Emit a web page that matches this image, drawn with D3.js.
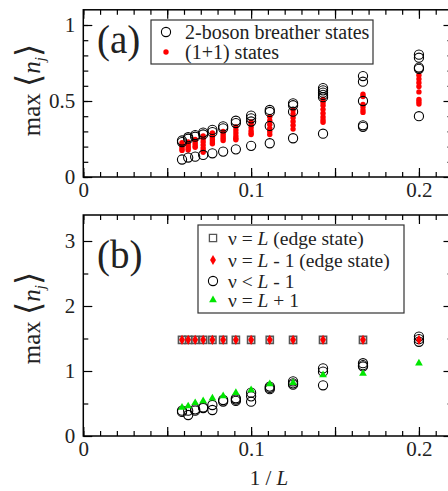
<!DOCTYPE html>
<html lang="en">
<head>
<meta charset="UTF-8">
<title>max n_j vs 1/L</title>
<script src="https://cdn.jsdelivr.net/npm/d3@7"></script>
<style>
  body { margin: 0; background: #fff; }
  svg { display: block; }
  svg text { font-family: "Liberation Serif", "Times New Roman", serif; }
</style>
</head>
<body>
<svg id="chart" width="448" height="491"></svg>
<script>
// system sizes L, plotted against 1/L
const sizesA = [5, 6, 7, 8, 9, 10, 11, 12, 13, 14, 15, 16, 17]

// (a) 2-boson breather states, one list per L
const breather = [
  [0.805, 0.785, 0.72, 0.712, 0.40],
  [0.664, 0.627, 0.50, 0.34, 0.33],
  [0.585, 0.57, 0.555, 0.54, 0.525, 0.285],
  [0.485, 0.472, 0.43, 0.255],
  [0.441, 0.428, 0.336, 0.222],
  [0.404, 0.386, 0.365, 0.205],
  [0.37, 0.355, 0.182],
  [0.333, 0.32, 0.167],
  [0.31, 0.295, 0.156],
  [0.292, 0.28, 0.145],
  [0.276, 0.265, 0.134],
  [0.262, 0.252, 0.128],
  [0.24, 0.23, 0.115]
]
// (a) (1+1) states
const oneOne = [
  [0.67, 0.645, 0.62, 0.595, 0.56, 0.51, 0.495, 0.48],
  [0.545, 0.53, 0.478, 0.46, 0.44, 0.425],
  [0.51, 0.49, 0.47, 0.445, 0.42, 0.395, 0.375, 0.36],
  [0.44, 0.415, 0.39, 0.365, 0.34, 0.315],
  [0.396, 0.37, 0.345, 0.32, 0.3, 0.28],
  [0.362, 0.345, 0.325, 0.305, 0.29, 0.28],
  [0.33, 0.31, 0.29, 0.27, 0.255, 0.245],
  [0.30, 0.285, 0.27, 0.255, 0.24],
  [0.29, 0.275, 0.26, 0.245, 0.23, 0.218],
  [0.27, 0.25, 0.23, 0.21, 0.19, 0.175, 0.163],
  [0.247, 0.232, 0.218, 0.205, 0.195],
  [0.23, 0.215, 0.2, 0.188, 0.178],
  [0.225, 0.21, 0.198, 0.185, 0.175]
]

// (b)
const edgeL = [null, 1.48, 1.48, 1.48, 1.48, 1.48, 1.48, 1.48, 1.48, 1.48, 1.48, 1.48, 1.48]
const edgeLm1 = [1.48, 1.48, 1.48, 1.48, 1.48, 1.48, 1.48, 1.48, 1.48, 1.48, 1.48, 1.48, 1.48]
const belowLm1 = [
  [1.53, 1.49, 1.45],
  [1.12, 1.09, 1.07],
  [1.04, 0.99, 0.78],
  [0.84, 0.81, 0.79],
  [0.76, 0.74, 0.72],
  [0.667, 0.61, 0.528],
  [0.58, 0.56, 0.54],
  [0.554, 0.53],
  [0.477, 0.40],
  [0.44, 0.43],
  [0.41, 0.39],
  [0.39, 0.323],
  [0.39, 0.37]
]
const Lp1 = [1.12, 0.96, 0.94, 0.82, 0.80, 0.708, 0.667, 0.615, 0.58, 0.54, 0.51, 0.46, 0.44]

const xTicksMajor = [0, 0.05, 0.1, 0.15, 0.2]
const xTickLabels = {0: "0", 0.1: "0.1", 0.2: "0.2"}

let svg = d3.select("#chart")
let x = d3.scaleLinear().domain([0, 0.22]).range([83.3, 452.5])
let yA = d3.scaleLinear().domain([0, 1.1]).range([177, 9.8])
let yB = d3.scaleLinear().domain([0, 3.4]).range([436, 215])

function flat(lists) {
  let out = []
  lists.forEach((vals, i) => {
    if (vals == null) return
    [].concat(vals).forEach(v => { if (v != null) out.push({L: sizesA[i], v: v}) })
  })
  return out
}

function frame(y, yMajor, yMinor, yFmt) {
  let g = svg.append("g")
  let x0 = x.range()[0], x1 = x.range()[1]
  let y0 = y.range()[0], y1 = y.range()[1]
  let xMinor = d3.range(0, 0.2201, 0.01).map(d => +d.toFixed(2))

  let axes = [
    [d3.axisBottom(x).tickValues(xMinor).tickSize(-5).tickFormat(""), `translate(0,${y0})`],
    [d3.axisBottom(x).tickValues(xTicksMajor).tickSize(-9).tickPadding(5)
       .tickFormat(d => xTickLabels[d] || ""), `translate(0,${y0})`],
    [d3.axisTop(x).tickValues(xMinor).tickSize(-5).tickFormat(""), `translate(0,${y1})`],
    [d3.axisTop(x).tickValues(xTicksMajor).tickSize(-9).tickFormat(""), `translate(0,${y1})`],
    [d3.axisLeft(y).tickValues(yMinor).tickSize(-5).tickFormat(""), `translate(${x0},0)`],
    [d3.axisLeft(y).tickValues(yMajor).tickSize(-9).tickPadding(8).tickFormat(yFmt), `translate(${x0},0)`],
    [d3.axisRight(y).tickValues(yMinor).tickSize(-5).tickFormat(""), `translate(${x1},0)`],
    [d3.axisRight(y).tickValues(yMajor).tickSize(-9).tickFormat(""), `translate(${x1},0)`]
  ]
  axes.forEach(a => {
    let ax = g.append("g").attr("transform", a[1]).call(a[0])
    ax.select(".domain").remove()
    ax.attr("font-family", null)
    ax.selectAll("line").attr("stroke", "#000").attr("stroke-width", 1.2)
    ax.selectAll("text").attr("font-size", 21).attr("fill", "#222")
  })
  g.append("rect")
    .attr("x", x0).attr("y", y1)
    .attr("width", x1 - x0).attr("height", y0 - y1)
    .attr("fill", "none").attr("stroke", "#000").attr("stroke-width", 1.5)
}

function yLabel(cy) {
  let t = svg.append("text")
    .attr("transform", `translate(40,${cy}) rotate(-90)`)
    .attr("text-anchor", "middle")
    .attr("font-size", 25).attr("fill", "#222")
  t.append("tspan").text("max ")
  t.append("tspan").attr("font-size", 34).style("font-family", "DejaVu Serif").attr("font-weight", 200).text("\u27E8")
  t.append("tspan").attr("font-style", "italic").text("n")
  t.append("tspan").attr("font-style", "italic").attr("font-size", 15).attr("dy", 5).text("j")
  t.append("tspan").attr("dy", -5).attr("font-size", 34).style("font-family", "DejaVu Serif").attr("font-weight", 200).text("\u27E9")
}

// ---- panel (a)
frame(yA, [0, 0.5, 1], d3.range(0, 1.1, 0.1).map(d => +d.toFixed(1)), d => d === 0 ? "0" : d === 1 ? "1" : "0.5")

svg.append("g").selectAll("circle").data(flat(oneOne)).enter().append("circle")
  .attr("cx", d => x(1 / d.L)).attr("cy", d => yA(d.v))
  .attr("r", 2.7).attr("fill", "#ff0000")
svg.append("g").selectAll("circle").data(flat(breather)).enter().append("circle")
  .attr("cx", d => x(1 / d.L)).attr("cy", d => yA(d.v))
  .attr("r", 4.6).attr("fill", "none").attr("stroke", "#000").attr("stroke-width", 1.1)

svg.append("text").attr("x", 97).attr("y", 53).attr("font-size", 39).attr("fill", "#222").text("(a)")
yLabel(90)

let legA = svg.append("g")
legA.append("rect").attr("x", 151).attr("y", 20).attr("width", 222).attr("height", 44)
  .attr("fill", "#fff").attr("stroke", "#333").attr("stroke-width", 1.2)
legA.append("circle").attr("cx", 166).attr("cy", 32).attr("r", 4.6)
  .attr("fill", "none").attr("stroke", "#000").attr("stroke-width", 1.1)
legA.append("circle").attr("cx", 166).attr("cy", 52).attr("r", 2.7).attr("fill", "#ff0000")
legA.append("text").attr("x", 185).attr("y", 39).attr("font-size", 20).attr("fill", "#222").text("2-boson breather states")
legA.append("text").attr("x", 185).attr("y", 59).attr("font-size", 20).attr("fill", "#222").text("(1+1) states")

// ---- panel (b)
frame(yB, [0, 1, 2, 3], [0.5, 1.5, 2.5], d => String(d))

let sq = d3.symbol().type(d3.symbolSquare).size(52)
let dia = d3.symbol().type(d3.symbolDiamond).size(30)
let tri = d3.symbol().type(d3.symbolTriangle).size(26)

svg.append("g").selectAll("path").data(flat(edgeL)).enter().append("path")
  .attr("d", sq).attr("transform", d => `translate(${x(1 / d.L)},${yB(d.v)})`)
  .attr("fill", "#ddd").attr("stroke", "#555").attr("stroke-width", 1.5)
svg.append("g").selectAll("circle").data(flat(belowLm1)).enter().append("circle")
  .attr("cx", d => x(1 / d.L)).attr("cy", d => yB(d.v))
  .attr("r", 4.6).attr("fill", "none").attr("stroke", "#000").attr("stroke-width", 1.1)
svg.append("g").selectAll("path").data(flat(edgeLm1)).enter().append("path")
  .attr("d", dia).attr("transform", d => `translate(${x(1 / d.L)},${yB(d.v)})`)
  .attr("fill", "#ff0000")
svg.append("g").selectAll("path").data(flat(Lp1)).enter().append("path")
  .attr("d", tri).attr("transform", d => `translate(${x(1 / d.L)},${yB(d.v)})`)
  .attr("fill", "#00e600")

svg.append("text").attr("x", 97).attr("y", 268).attr("font-size", 39).attr("fill", "#222").text("(b)")
yLabel(318)

let legB = svg.append("g")
legB.append("rect").attr("x", 198).attr("y", 225).attr("width", 206).attr("height", 88)
  .attr("fill", "#fff").attr("stroke", "#333").attr("stroke-width", 1.2)
let rowsY = [238, 260, 281, 300]
legB.append("path").attr("d", sq).attr("transform", `translate(213,${rowsY[0]})`)
  .attr("fill", "#fff").attr("stroke", "#555").attr("stroke-width", 1.3)
legB.append("path").attr("d", dia).attr("transform", `translate(213,${rowsY[1]})`).attr("fill", "#ff0000")
legB.append("circle").attr("cx", 213).attr("cy", rowsY[2]).attr("r", 4.6)
  .attr("fill", "none").attr("stroke", "#000").attr("stroke-width", 1.1)
legB.append("path").attr("d", tri).attr("transform", `translate(213,${rowsY[3]})`).attr("fill", "#00e600")

let legTexts = [
  ["\u03BD = ", "L", " (edge state)"],
  ["\u03BD = ", "L", " - 1 (edge state)"],
  ["\u03BD < ", "L", " - 1"],
  ["\u03BD = ", "L", " + 1"]
]
legTexts.forEach((parts, i) => {
  let t = legB.append("text").attr("x", 228).attr("y", rowsY[i] + 6.5)
    .attr("font-size", 19.5).attr("fill", "#222")
  t.append("tspan").text(parts[0])
  t.append("tspan").attr("font-style", "italic").text(parts[1])
  t.append("tspan").text(parts[2])
})

// x label
let xl = svg.append("text").attr("x", 269).attr("y", 485).attr("text-anchor", "middle")
  .attr("font-size", 21).attr("fill", "#222")
xl.append("tspan").text("1 / ")
xl.append("tspan").attr("font-style", "italic").text("L")
</script>
</body>
</html>
